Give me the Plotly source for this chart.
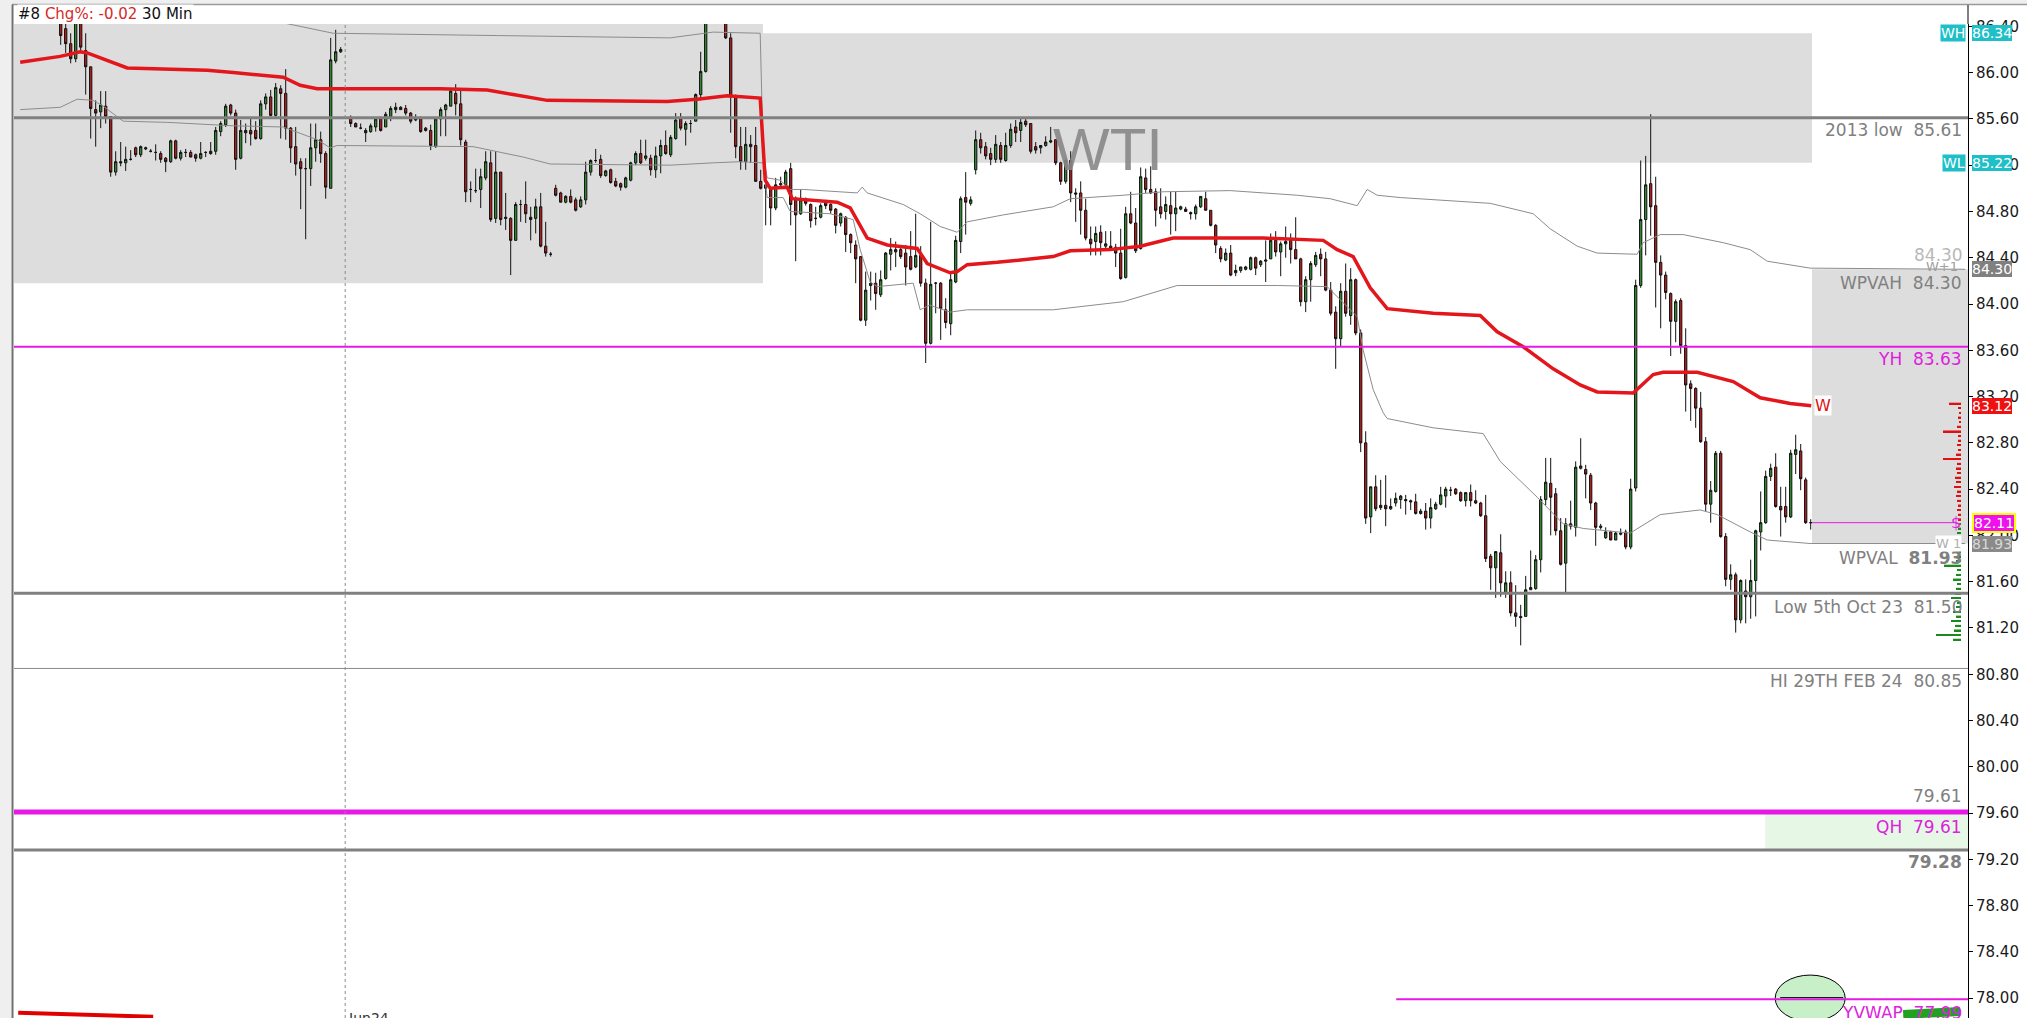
import plotly.graph_objects as go

# ---------------- candle data (30 min bars, index = bar position) ----------------
FIRST_BAR = 9
opens = [
 86.55, 86.38, 86.25, 86.12, 86.50, 86.19, 86.05, 85.68, 85.66, 85.71,
 85.62, 85.14, 85.23, 85.22, 85.25, 85.35, 85.29, 85.34, 85.32, 85.31,
 85.30, 85.26, 85.23, 85.41, 85.26, 85.31, 85.31, 85.29, 85.26, 85.31,
 85.30, 85.32, 85.49, 85.55, 85.72, 85.65, 85.26, 85.50, 85.50, 85.50,
 85.43, 85.73, 85.79, 85.63, 85.86, 85.82, 85.52, 85.36, 85.23, 85.17,
 85.17, 85.35, 85.42, 85.30, 85.00, 86.10, 86.18, None, 85.60, 85.56,
 85.52, 85.50, 85.49, 85.53, 85.60, 85.53, 85.62, 85.70, 85.70, 85.69,
 85.65, 85.61, 85.60, 85.52, 85.50, 85.36, 85.60, 85.68, 85.71, 85.82,
 85.73, 85.40, 84.99, 84.98, 84.99, 85.09, 85.22, 84.74, 85.14, 84.75,
 84.74, 84.55, 84.86, 84.86, 84.75, 84.74, 84.84, 84.50, 84.43, 85.00,
 84.96, 84.88, 84.93, 84.90, 84.84, 84.90, 85.14, 85.24, 85.25, 85.11,
 85.16, 85.06, 85.04, 85.01, 85.07, 85.22, 85.30, 85.26, 85.26, 85.16,
 85.28, 85.37, 85.29, 85.43, 85.60, 85.51, 85.56, 85.58, 85.81, 86.01,
 86.50, 86.65, 86.55, 86.45, 86.30, 85.79, 85.36, 85.23, 85.38, 85.37,
 85.06, 85.03, 85.00, 84.83, 85.03, 85.03, 85.17, 84.91, 84.78, 84.91,
 84.86, 84.74, 84.75, 84.88, 84.86, 84.82, 84.70, 84.75, 84.60, 84.51,
 84.41, 83.86, 84.16, 84.18, 84.08, 84.22, 84.43, 84.45, 84.47, 84.44,
 84.41, 84.32, 84.42, 84.18, 83.66, 84.18, 84.18, 83.95, 83.83, 84.19,
 84.54, 84.92, 84.87, 85.16, 85.42, 85.36, 85.30, 85.25, 85.37, 85.24,
 85.37, 85.53, 85.50, 85.58, 85.56, 85.36, 85.35, 85.37, 85.40, 85.42,
 85.22, 85.06, 85.24, 84.96, 84.96, 84.81, 84.56, 84.54, 84.62, 84.50,
 84.50, 84.49, 84.44, 84.23, 84.78, 84.70, 84.48, 85.09, 84.99, 84.97,
 84.84, 84.80, 84.85, 84.78, 84.82, 84.82, 84.79, 84.78, 84.84, 84.91,
 84.81, 84.68, 84.48, 84.38, 84.44, 84.27, 84.29, 84.30, 84.30, 84.40,
 84.34, 84.37, 84.39, 84.55, 84.45, 84.52, 84.55, 84.47, 84.39, 84.02,
 84.21, 84.34, 84.43, 84.39, 84.12, 83.93, 83.70, 84.11, 83.90, 84.21,
 83.75, 82.80, 82.16, 82.42, 82.24, 82.26, 82.23, 82.28, 82.31, 82.31,
 82.30, 82.29, 82.19, 82.21, 82.15, 82.23, 82.27, 82.34, 82.39, 82.40,
 82.37, 82.30, 82.37, 82.30, 82.28, 82.17, 81.82, 81.72, 81.85, 81.50,
 81.59, 81.33, 81.30, 81.30, 81.53, 81.54, 81.79, 82.31, 82.45, 82.36,
 82.04, 81.76, 82.10, 82.07, 82.58, 82.57, 82.52, 82.28, 82.08, 81.98,
 82.03, 81.96, 82.01, 82.03, 81.90, 82.41, 84.16, 84.73, 85.04, 84.85,
 84.36, 84.25, 84.09, 83.85, 84.03, 83.64, 83.31, 83.27, 83.10, 82.81,
 82.27, 82.38, 82.71, 81.99, 81.62, 81.66, 81.27, 81.52, 81.47, 81.61,
 82.03, 82.11, 82.51, 82.59, 82.25, 82.25, 82.16, 82.70, 82.73, 82.48, 82.11,
]
highs = [
 86.60, 86.45, 86.34, 86.60, 86.60, 86.34, 86.05, 85.76, 85.84, 85.84,
 85.62, 85.32, 85.40, 85.36, 85.33, 85.36, 85.37, 85.36, 85.34, 85.38,
 85.32, 85.27, 85.42, 85.42, 85.33, 85.34, 85.33, 85.30, 85.40, 85.32,
 85.40, 85.53, 85.58, 85.73, 85.73, 85.68, 85.59, 85.56, 85.60, 85.58,
 85.76, 85.82, 85.85, 85.91, 85.89, 86.03, 85.53, 85.53, 85.26, 85.26,
 85.56, 85.56, 85.49, 85.32, 86.30, 86.37, 86.22, None, 85.63, 85.57,
 85.56, 85.52, 85.56, 85.61, 85.62, 85.66, 85.71, 85.74, 85.71, 85.72,
 85.66, 85.64, 85.62, 85.53, 85.55, 85.60, 85.70, 85.73, 85.86, 85.90,
 85.85, 85.42, 85.06, 85.17, 85.17, 85.32, 85.32, 85.32, 85.14, 84.96,
 84.75, 84.88, 84.90, 85.06, 84.84, 84.91, 84.96, 84.71, 84.45, 85.03,
 84.97, 84.94, 84.99, 84.92, 84.93, 85.23, 85.25, 85.34, 85.29, 85.16,
 85.17, 85.09, 85.05, 85.10, 85.23, 85.32, 85.42, 85.42, 85.29, 85.36,
 85.42, 85.50, 85.46, 85.65, 85.65, 85.58, 85.59, 85.82, 86.18, 86.60,
 86.80, 86.80, 86.70, 86.55, 86.34, 85.81, 85.53, 85.53, 85.46, 85.53,
 85.16, 85.11, 85.01, 85.09, 85.10, 85.16, 85.22, 84.93, 84.99, 84.92,
 84.87, 84.84, 84.87, 84.90, 84.87, 84.83, 84.79, 84.76, 84.61, 84.55,
 84.41, 84.28, 84.28, 84.27, 84.29, 84.45, 84.57, 84.54, 84.51, 84.51,
 84.63, 84.78, 84.50, 84.22, 84.71, 84.19, 84.19, 84.05, 84.28, 84.59,
 84.93, 85.14, 84.93, 85.50, 85.48, 85.40, 85.35, 85.46, 85.40, 85.48,
 85.56, 85.59, 85.60, 85.60, 85.56, 85.40, 85.37, 85.45, 85.53, 85.42,
 85.23, 85.26, 85.32, 85.00, 85.06, 84.91, 84.67, 84.67, 84.68, 84.63,
 84.63, 84.52, 84.65, 84.84, 84.97, 84.83, 85.18, 85.17, 85.19, 85.00,
 85.00, 84.93, 84.97, 84.97, 84.85, 84.84, 84.80, 84.86, 84.93, 84.97,
 84.81, 84.69, 84.50, 84.48, 84.51, 84.34, 84.32, 84.33, 84.41, 84.41,
 84.38, 84.55, 84.61, 84.63, 84.54, 84.67, 84.61, 84.75, 84.40, 84.24,
 84.37, 84.45, 84.48, 84.45, 84.19, 83.98, 84.18, 84.35, 84.31, 84.22,
 83.78, 82.90, 82.42, 82.52, 82.48, 82.52, 82.32, 82.37, 82.35, 82.35,
 82.31, 82.36, 82.23, 82.28, 82.32, 82.29, 82.42, 82.42, 82.42, 82.41,
 82.38, 82.37, 82.44, 82.39, 82.29, 82.35, 81.84, 81.86, 82.01, 81.69,
 81.69, 81.57, 81.40, 81.65, 81.87, 81.83, 82.34, 82.67, 82.67, 82.41,
 82.15, 82.15, 82.30, 82.64, 82.84, 82.61, 82.54, 82.29, 82.10, 82.07,
 82.04, 82.03, 82.06, 82.05, 82.49, 84.21, 85.24, 85.28, 85.64, 85.10,
 84.42, 84.28, 84.10, 84.04, 84.05, 83.79, 83.34, 83.28, 83.24, 82.85,
 82.47, 82.73, 82.73, 82.02, 81.75, 81.68, 81.62, 81.62, 81.79, 82.05,
 82.38, 82.56, 82.62, 82.71, 82.42, 82.42, 82.74, 82.87, 82.79, 82.50, 82.14,
]
lows = [
 86.24, 86.17, 86.08, 86.09, 86.17, 85.81, 85.43, 85.36, 85.52, 85.56,
 85.10, 85.11, 85.19, 85.15, 85.24, 85.27, 85.27, 85.33, 85.31, 85.24,
 85.22, 85.14, 85.22, 85.25, 85.24, 85.27, 85.27, 85.23, 85.25, 85.27,
 85.29, 85.29, 85.45, 85.53, 85.63, 85.16, 85.25, 85.39, 85.37, 85.42,
 85.42, 85.68, 85.62, 85.62, 85.43, 85.42, 85.22, 85.11, 84.82, 84.56,
 85.02, 85.23, 85.22, 84.91, 85.00, 86.08, 86.17, None, 85.53, 85.53,
 85.51, 85.40, 85.48, 85.49, 85.49, 85.53, 85.58, 85.65, 85.68, 85.63,
 85.56, 85.58, 85.48, 85.49, 85.33, 85.35, 85.45, 85.45, 85.71, 85.63,
 85.37, 84.88, 84.88, 84.96, 84.83, 85.07, 84.71, 84.70, 84.68, 84.64,
 84.25, 84.55, 84.71, 84.70, 84.55, 84.61, 84.49, 84.41, 84.41, 84.93,
 84.88, 84.87, 84.87, 84.80, 84.83, 84.86, 85.11, 85.22, 85.09, 85.10,
 85.04, 85.01, 84.98, 85.00, 85.06, 85.20, 85.21, 85.24, 85.11, 85.09,
 85.13, 85.29, 85.27, 85.42, 85.50, 85.37, 85.48, 85.58, 85.76, 86.00,
 86.45, 86.50, 86.44, 86.29, 85.48, 85.26, 85.16, 85.16, 85.22, 85.06,
 84.99, 84.68, 84.68, 84.81, 85.02, 85.01, 84.68, 84.37, 84.77, 84.85,
 84.66, 84.68, 84.74, 84.82, 84.78, 84.61, 84.67, 84.45, 84.44, 84.18,
 83.85, 83.81, 84.03, 83.95, 84.06, 84.21, 84.29, 84.32, 84.39, 84.16,
 84.29, 84.31, 84.15, 83.49, 83.65, 83.92, 83.69, 83.79, 83.73, 84.18,
 84.44, 84.60, 84.85, 85.12, 85.30, 85.25, 85.20, 85.22, 85.22, 85.23,
 85.35, 85.40, 85.40, 85.53, 85.30, 85.30, 85.30, 85.36, 85.39, 85.20,
 85.03, 85.04, 84.88, 84.71, 84.60, 84.55, 84.42, 84.42, 84.42, 84.48,
 84.47, 84.32, 84.21, 84.22, 84.69, 84.44, 84.47, 84.96, 84.95, 84.67,
 84.74, 84.73, 84.60, 84.63, 84.81, 84.80, 84.73, 84.73, 84.83, 84.81,
 84.67, 84.44, 84.36, 84.37, 84.24, 84.24, 84.27, 84.29, 84.29, 84.25,
 84.32, 84.19, 84.39, 84.41, 84.24, 84.40, 84.35, 84.39, 83.98, 83.93,
 84.02, 84.32, 84.24, 84.11, 83.90, 83.44, 83.63, 83.89, 83.82, 83.73,
 82.72, 82.10, 82.02, 82.21, 82.22, 82.08, 82.22, 82.25, 82.23, 82.18,
 82.22, 82.18, 82.18, 82.05, 82.06, 82.22, 82.26, 82.24, 82.34, 82.35,
 82.29, 82.25, 82.25, 82.27, 82.16, 81.77, 81.53, 81.46, 81.47, 81.46,
 81.30, 81.21, 81.05, 81.30, 81.53, 81.53, 81.68, 82.26, 82.00, 82.00,
 81.74, 81.50, 82.05, 81.99, 82.57, 82.32, 82.22, 81.91, 82.05, 81.97,
 81.96, 81.96, 82.00, 81.88, 81.88, 82.38, 84.14, 84.42, 84.59, 83.97,
 83.79, 84.04, 83.55, 83.67, 83.57, 83.07, 82.99, 82.93, 82.80, 82.21,
 82.11, 82.37, 81.98, 81.56, 81.53, 81.16, 81.24, 81.24, 81.28, 81.30,
 81.87, 82.10, 82.47, 82.24, 81.99, 82.11, 82.15, 82.53, 82.39, 82.10, 82.05,
]
closes = [
 86.32, 86.25, 86.12, 86.50, 86.22, 86.05, 85.69, 85.65, 85.72, 85.62,
 85.14, 85.23, 85.22, 85.25, 85.25, 85.29, 85.36, 85.35, 85.32, 85.31,
 85.25, 85.23, 85.41, 85.26, 85.31, 85.31, 85.27, 85.26, 85.30, 85.31,
 85.32, 85.50, 85.56, 85.71, 85.65, 85.25, 85.50, 85.48, 85.47, 85.43,
 85.73, 85.79, 85.63, 85.87, 85.82, 85.52, 85.35, 85.21, 85.17, 85.17,
 85.35, 85.42, 85.30, 85.01, 86.11, 86.18, 86.20, None, 85.56, 85.53,
 85.52, 85.48, 85.54, 85.60, 85.50, 85.64, 85.69, 85.68, 85.68, 85.65,
 85.58, 85.59, 85.49, 85.50, 85.37, 85.60, 85.68, 85.72, 85.84, 85.73,
 85.42, 84.97, 84.99, 84.98, 85.10, 85.23, 84.73, 85.14, 84.73, 84.74,
 84.55, 84.86, 84.86, 84.78, 84.73, 84.84, 84.50, 84.44, 84.43, 84.94,
 84.88, 84.93, 84.88, 84.81, 84.90, 85.14, 85.24, 85.24, 85.11, 85.15,
 85.05, 85.02, 85.01, 85.09, 85.22, 85.30, 85.22, 85.28, 85.16, 85.28,
 85.37, 85.30, 85.44, 85.59, 85.52, 85.56, 85.56, 85.81, 86.01, 86.50,
 86.65, 86.55, 86.45, 86.30, 85.79, 85.36, 85.23, 85.38, 85.36, 85.06,
 85.00, 85.00, 84.83, 85.03, 85.04, 85.14, 84.86, 84.77, 84.90, 84.87,
 84.72, 84.74, 84.85, 84.85, 84.81, 84.68, 84.78, 84.60, 84.53, 84.39,
 83.86, 84.12, 84.18, 84.09, 84.21, 84.44, 84.47, 84.47, 84.41, 84.32,
 84.30, 84.42, 84.18, 83.66, 84.17, 84.18, 83.96, 83.84, 84.21, 84.55,
 84.91, 84.88, 84.90, 85.42, 85.35, 85.28, 85.25, 85.38, 85.25, 85.37,
 85.51, 85.48, 85.57, 85.55, 85.32, 85.33, 85.37, 85.40, 85.41, 85.22,
 85.06, 85.24, 84.96, 84.95, 84.81, 84.57, 84.52, 84.61, 84.53, 84.52,
 84.48, 84.44, 84.22, 84.78, 84.70, 84.46, 85.10, 84.99, 84.96, 84.81,
 84.78, 84.86, 84.78, 84.83, 84.84, 84.80, 84.78, 84.84, 84.93, 84.81,
 84.68, 84.51, 84.39, 84.44, 84.25, 84.29, 84.32, 84.32, 84.40, 84.31,
 84.37, 84.38, 84.55, 84.45, 84.52, 84.54, 84.47, 84.39, 84.02, 84.21,
 84.35, 84.42, 84.39, 84.12, 83.92, 83.70, 84.11, 83.92, 84.21, 83.75,
 82.80, 82.15, 82.42, 82.23, 82.26, 82.23, 82.25, 82.32, 82.34, 82.30,
 82.29, 82.19, 82.21, 82.15, 82.24, 82.27, 82.35, 82.40, 82.39, 82.36,
 82.30, 82.37, 82.30, 82.28, 82.17, 81.80, 81.72, 81.86, 81.59, 81.59,
 81.33, 81.30, 81.29, 81.53, 81.55, 81.79, 82.31, 82.46, 82.33, 82.04,
 81.75, 82.10, 82.08, 82.59, 82.60, 82.53, 82.28, 82.07, 82.07, 82.03,
 81.96, 82.02, 82.02, 81.90, 82.40, 84.16, 84.73, 85.03, 84.84, 84.36,
 84.25, 84.10, 83.85, 84.02, 83.64, 83.30, 83.27, 83.10, 82.81, 82.27,
 82.39, 82.71, 81.99, 81.62, 81.66, 81.27, 81.61, 81.47, 81.61, 82.04,
 82.11, 82.51, 82.58, 82.25, 82.22, 82.16, 82.71, 82.74, 82.49, 82.11, 82.11,
]

# ---------------- weekly VWAP and bands (bar position, price) ----------------
vwap_x = [0.9, 8.9, 12.9, 14.3, 22.3, 38.3, 43.5, 53.5, 56.9, 60.3, 84.9, 94.3, 99.5, 106.3, 130.3,
          136.3, 142.3, 148.9, 149.9, 150.9, 154.3, 155.3, 164.3, 166.9, 170.3, 174.3, 180.3, 182.3,
          186.9, 188.3, 190.3, 196.3, 207.5, 210.9, 218.9, 224.9, 231.5, 249.5, 261.5, 264.3, 267.5,
          270.9, 274.3, 283.5, 292.9, 296.3, 301.5, 307.5, 312.9, 316.3, 323.5, 327.5, 329.5, 336.3,
          343.5, 348.9, 354.9, 359.1]
vwap_y = [86.09, 86.14, 86.18, 86.17, 86.04, 86.02, 86.00, 85.96, 85.89, 85.86, 85.86, 85.85, 85.81,
          85.76, 85.75, 85.77, 85.80, 85.78, 85.07, 85.00, 85.01, 84.91, 84.88, 84.83, 84.57, 84.51,
          84.48, 84.35, 84.27, 84.28, 84.34, 84.36, 84.41, 84.46, 84.47, 84.50, 84.57, 84.57, 84.55,
          84.47, 84.41, 84.14, 83.96, 83.92, 83.90, 83.76, 83.63, 83.44, 83.30, 83.24, 83.23, 83.39,
          83.41, 83.41, 83.33, 83.19, 83.14, 83.12]
upper_x = [53.5, 63.5, 96.3, 130.9, 139.5, 148.9, 149.5, 150.3, 152.9, 154.9, 157.5, 168.3, 169.3,
           170.3, 177.5, 180.9, 184.9, 188.3, 190.3, 197.5, 207.5, 210.9, 221.5, 229.5, 242.9, 256.3,
           262.9, 268.3, 270.3, 272.3, 276.9, 294.9, 303.5, 306.9, 312.3, 316.3, 324.3, 325.5, 328.9,
           333.5, 341.5, 346.9, 350.3, 358.9, 389.9]
upper_y = [86.43, 86.34, 86.32, 86.30, 86.35, 86.34, 85.30, 85.09, 85.07, 84.99, 84.99, 84.96, 85.01,
           84.96, 84.86, 84.78, 84.67, 84.62, 84.71, 84.77, 84.84, 84.91, 84.94, 84.97, 84.98, 84.94,
           84.91, 84.85, 84.99, 84.94, 84.92, 84.87, 84.78, 84.65, 84.50, 84.44, 84.43, 84.53, 84.60,
           84.60, 84.53, 84.47, 84.37, 84.31, 84.30]
lower_x = [0.9, 8.9, 12.3, 15.5, 17.5, 21.5, 30.3, 43.5, 53.5, 60.3, 62.9, 64.3, 91.5, 101.5, 106.9,
           130.9, 139.5, 144.9, 149.5, 150.3, 153.5, 154.9, 162.9, 167.5, 168.9, 170.9, 172.3, 179.5,
           180.9, 182.8, 186.9, 190.3, 207.5, 221.5, 232.3, 252.3, 262.3, 265.5, 268.3, 269.5, 271.5,
           273.5, 274.3, 283.5, 293.5, 296.9, 304.3, 309.5, 313.5, 322.9, 328.9, 336.9, 340.3, 346.9,
           350.3, 358.9, 389.9]
lower_y = [85.68, 85.70, 85.77, 85.76, 85.71, 85.58, 85.57, 85.54, 85.53, 85.42, 85.35, 85.37, 85.36,
           85.27, 85.21, 85.20, 85.22, 85.23, 85.22, 84.92, 84.92, 84.80, 84.78, 84.73, 84.47, 84.19,
           84.15, 84.18, 83.95, 83.99, 83.93, 83.95, 83.95, 84.02, 84.16, 84.16, 84.15, 84.01, 83.89,
           83.60, 83.26, 83.06, 83.01, 82.93, 82.88, 82.64, 82.33, 82.10, 82.06, 82.02, 82.18, 82.22,
           82.18, 82.03, 81.96, 81.93, 81.93]

# ---------------- volume profile (right edge) ----------------
prof_price = [83.14, 83.10, 83.06, 83.02, 82.98, 82.94, 82.90, 82.86, 82.82, 82.78, 82.74, 82.70, 82.66,
              82.62, 82.58, 82.54, 82.50, 82.46, 82.42, 82.38, 82.34, 82.30, 82.26, 82.22, 82.18, 82.14,
              82.10, 82.06, 82.02, 81.98, 81.94, 81.90, 81.86, 81.82, 81.78, 81.74, 81.70, 81.66, 81.62,
              81.58, 81.54, 81.50, 81.46, 81.42, 81.38, 81.34, 81.30, 81.26, 81.22, 81.18, 81.14, 81.10]
prof_vol = [12, 3, 2, 3, 2, 4, 18, 3, 3, 4, 3, 5, 18, 4, 5, 4, 6, 5, 7, 4, 5, 4, 3, 4, 3, 3,
            2, 3, 4, 3, 4, 3, 4, 3, 5, 17, 4, 5, 8, 4, 5, 6, 10, 4, 5, 8, 5, 10, 6, 7, 25, 8]

# ---------------- reference levels ----------------
WH, WL = 86.34, 85.22
PW_BOX = (84.18, 86.90)
WPVAH, WPVAL = 84.30, 81.93
LOW_2013 = 85.61
YH = 83.63
LOW_OCT23 = 81.50
HI_FEB24 = 80.85
QH = 79.61
LVL_7928 = 79.28
YVWAP = 77.99
SESSION_BREAK = 65.9
WEEK_BREAK = 149.46
LAST_BAR_EDGE = 359.26
YVWAP_START = 276.1
TICKS = [78.0 + 0.4 * k for k in range(22)]

n = len(opens)
assert n == len(highs) == len(lows) == len(closes)
idx = list(range(FIRST_BAR, FIRST_BAR + n))
last_close = closes[-1]
last_vwap = vwap_y[-1]

X_RANGE = [-0.34, 390.46]
Y_RANGE = [77.829, 86.42]
MAG = '#E619E6'
MAG_T = '#DD22DD'
GRAY = '#808080'
CYAN = '#1FBFC7'
FONT = 'DejaVu Sans'

fig = go.Figure()

fig.add_trace(go.Candlestick(
    x=idx, open=opens, high=highs, low=lows, close=closes,
    increasing=dict(line=dict(color='#111111', width=1), fillcolor='#2f8f2f'),
    decreasing=dict(line=dict(color='#111111', width=1), fillcolor='#b81c1c'),
    whiskerwidth=0, hoverinfo='skip', showlegend=False))

for bx, by in ((upper_x, upper_y), (lower_x, lower_y)):
    fig.add_trace(go.Scatter(x=bx, y=by, mode='lines', line=dict(color='#8c8c8c', width=1),
                             hoverinfo='skip', showlegend=False))

fig.add_trace(go.Scatter(x=vwap_x, y=vwap_y, mode='lines', line=dict(color='#E3161C', width=3.5),
                         hoverinfo='skip', showlegend=False))

fig.add_trace(go.Scatter(x=[LAST_BAR_EDGE, 387.7], y=[last_close, last_close], mode='lines',
                         line=dict(color=MAG, width=1), hoverinfo='skip', showlegend=False))

fig.add_trace(go.Bar(y=prof_price, x=prof_vol, orientation='h', xaxis='x2', yaxis='y', base=0,
                     width=0.014,
                     marker=dict(color=['#dd1111' if p > last_close else '#1a8a1a' for p in prof_price],
                                 line=dict(width=0)),
                     hoverinfo='skip', showlegend=False))

shapes = []
# shaded ranges
shapes.append(dict(type='rect', xref='x', yref='y', x0=-2, x1=WEEK_BREAK, y0=PW_BOX[0], y1=PW_BOX[1],
                   fillcolor='#dddddd', line=dict(width=0), layer='below'))
shapes.append(dict(type='rect', xref='x', yref='y', x0=WEEK_BREAK, x1=LAST_BAR_EDGE, y0=WL, y1=WH,
                   fillcolor='#dddddd', line=dict(width=0), layer='below'))
shapes.append(dict(type='rect', xref='x', yref='y', x0=LAST_BAR_EDGE, x1=395, y0=WPVAL, y1=WPVAH,
                   fillcolor='#dddddd', line=dict(width=0), layer='below'))
shapes.append(dict(type='rect', xref='x', yref='y', x0=349.9, x1=395, y0=LVL_7928, y1=QH,
                   fillcolor='#e6f7e6', line=dict(width=0), layer='below'))
shapes.append(dict(type='circle', xref='x', yref='y', x0=351.9, x1=365.9, y0=77.80, y1=78.20,
                   fillcolor='#c8f0c8', line=dict(color='black', width=1), layer='below'))
# level lines
for lvl, col, w in ((LOW_2013, GRAY, 3), (YH, MAG, 2), (LOW_OCT23, GRAY, 3), (HI_FEB24, '#8a8a8a', 1),
                    (QH, MAG, 5), (LVL_7928, GRAY, 3)):
    shapes.append(dict(type='line', xref='paper', yref='y', x0=0, x1=1, y0=lvl, y1=lvl,
                       line=dict(color=col, width=w), layer='above'))
shapes.append(dict(type='line', xref='x', yref='y', x0=352.9, x1=365.5, y0=78.005, y1=78.005,
                   line=dict(color='black', width=1), layer='above'))
shapes.append(dict(type='line', xref='x', yref='y', x0=YVWAP_START, x1=395, y0=YVWAP, y1=YVWAP,
                   line=dict(color=MAG, width=2), layer='above'))
# drawings near the bottom
shapes.append(dict(type='line', xref='x', yref='y', x0=0.5, x1=27.5, y0=77.875, y1=77.84,
                   line=dict(color='#e00000', width=4), layer='above'))
shapes.append(dict(type='line', xref='x', yref='y', x0=377.5, x1=388.9, y0=77.86, y1=77.885,
                   line=dict(color='#22a022', width=9), layer='above'))
# session separator
shapes.append(dict(type='line', xref='x', yref='paper', x0=SESSION_BREAK, x1=SESSION_BREAK, y0=0, y1=1,
                   line=dict(color='#8a8a8a', width=1, dash='dot'), layer='above'))
# window frame
PW, PH = 1954.0, 994.0
shapes.append(dict(type='rect', xref='paper', yref='paper', x0=-14 / PW, x1=2013 / PW,
                   y0=1014 / PH, y1=1018 / PH + 0.01, fillcolor='#efefef', line=dict(width=0)))
shapes.append(dict(type='line', xref='paper', yref='paper', x0=-2 / PW, x1=2013 / PW,
                   y0=1013.5 / PH, y1=1013.5 / PH, line=dict(color='#9a9a9a', width=1.5)))
shapes.append(dict(type='rect', xref='paper', yref='paper', x0=-14 / PW, x1=-3 / PW,
                   y0=-0.01, y1=1014 / PH, fillcolor='#efefef', line=dict(width=0)))
shapes.append(dict(type='line', xref='paper', yref='paper', x0=-1.5 / PW, x1=-1.5 / PW,
                   y0=-0.01, y1=1013.5 / PH, line=dict(color='#707070', width=2)))
shapes.append(dict(type='line', xref='paper', yref='paper', x0=1, x1=1,
                   y0=1, y1=1013 / PH, line=dict(color='black', width=1)))

ann = []

def rlabel(y, text, color, size=17, below=True, shift=1, xshift=-4, bg=None):
    d = dict(xref='paper', x=1, xanchor='right', xshift=xshift, yref='y', y=y,
             yanchor='top' if below else 'bottom', yshift=-shift if below else shift,
             text=text, showarrow=False, font=dict(family=FONT, size=size, color=color))
    if bg:
        d['bgcolor'] = bg
    ann.append(d)

def tag(y, text, bg, fc='white', border=None):
    ann.append(dict(xref='paper', x=1, xanchor='left', xshift=4, yref='y', y=y, yanchor='middle',
                    text=text, showarrow=False, bgcolor=bg, borderpad=0,
                    bordercolor=border if border else bg, borderwidth=2 if border else 0,
                    font=dict(family=FONT, size=14, color=fc)))

def ltag(y, text, bg):
    ann.append(dict(xref='paper', x=1, xanchor='right', xshift=-2, yref='y', y=y, yanchor='middle',
                    text=text, showarrow=False, bgcolor=bg, borderpad=0,
                    font=dict(family=FONT, size=14, color='white')))

S = '\u00a0'
rlabel(LOW_2013, f'2013 low{S}{S}{LOW_2013:.2f}', GRAY, shift=0)
rlabel(WPVAH, f'WPVAH{S}{S}{WPVAH:.2f}', GRAY, shift=2)
rlabel(WPVAH, f'{WPVAH:.2f}', '#b8b8b8', below=False, shift=2, xshift=-3)
rlabel(WPVAH, 'W+1', '#a0a0a0', size=13, below=False, shift=-7, xshift=-8)
rlabel(YH, f'YH{S}{S}{YH:.2f}', MAG_T, shift=0)
rlabel(WPVAL, f'WPVAL{S}{S}<b>{WPVAL:.2f}</b>', GRAY, shift=2)
rlabel(LOW_OCT23, f'Low 5th Oct 23{S}{S}{LOW_OCT23:.2f}', GRAY, shift=2)
rlabel(HI_FEB24, f'HI 29TH FEB 24{S}{S}{HI_FEB24:.2f}', GRAY, shift=1)
rlabel(QH, f'{QH:.2f}', GRAY, below=False, shift=4)
rlabel(QH, f'QH{S}{S}{QH:.2f}', MAG_T, shift=3)
rlabel(LVL_7928, f'<b>{LVL_7928:.2f}</b>', GRAY, shift=0)
rlabel(YVWAP, f'YVWAP{S}{S}{YVWAP:.2f}', MAG_T, shift=2)

ann.append(dict(xref='paper', x=1, xanchor='right', xshift=-6, yref='y', y=WPVAL, yanchor='middle',
                text='W 1', showarrow=False, bgcolor='white', borderpad=0,
                font=dict(family=FONT, size=13, color='#b0b0b0')))
ann.append(dict(xref='paper', x=1, xanchor='right', xshift=-5, yref='y', y=last_close, yanchor='middle',
                text='$', showarrow=False, font=dict(family=FONT, size=16, color=MAG_T)))

tag(WH, f'{WH:.2f}', CYAN)
tag(WL, f'{WL:.2f}', CYAN)
tag(WPVAH, f'{WPVAH:.2f}', '#808080')
tag(last_vwap, f'{last_vwap:.2f}', '#ee1111')
tag(WPVAL, f'{WPVAL:.2f}', '#8a8a8a', fc='#d8d8d8')
tag(last_close, f'{last_close:.2f}', '#ee11ee', border='#ffff00')
ltag(WH, 'WH', CYAN)
ltag(WL, 'WL', CYAN)

ann.append(dict(xref='x', x=vwap_x[-1], xanchor='left', xshift=3, yref='y', y=last_vwap, yanchor='middle',
                text='W', showarrow=False, bgcolor='white', borderpad=0,
                font=dict(family=FONT, size=16, color='#e01010')))
ann.append(dict(xref='x', x=218.5, yref='y', y=85.335, xanchor='center', yanchor='middle',
                text='WTI', showarrow=False, opacity=0.9,
                font=dict(family='Liberation Sans', size=60, color='#888888')))
ann.append(dict(xref='paper', x=0, xanchor='left', xshift=3, yref='paper', y=1, yanchor='bottom',
                text="#8 <span style='color:#d42a2a'>Chg%: -0.02</span> 30 Min", showarrow=False,
                bgcolor='white', borderpad=0, font=dict(family=FONT, size=15, color='#111111')))
ann.append(dict(xref='x', x=SESSION_BREAK, xanchor='left', xshift=1, yref='paper', y=0, yanchor='top',
                yshift=10, text='Jun24', showarrow=False, font=dict(family=FONT, size=14, color='#333333')))

fig.update_layout(
    width=2027, height=1018,
    margin=dict(l=14, r=59, t=24, b=0, pad=0),
    paper_bgcolor='white', plot_bgcolor='white',
    showlegend=False, hovermode=False, boxgap=0.35,
    xaxis=dict(range=X_RANGE, visible=False, rangeslider=dict(visible=False), fixedrange=True),
    xaxis2=dict(range=[1947, -7], overlaying='x', anchor='y', visible=False, fixedrange=True),
    yaxis=dict(range=Y_RANGE, side='right', showgrid=False, zeroline=False, showline=True,
               linecolor='black', linewidth=1, ticks='outside', ticklen=4, tickcolor='black',
               tickvals=TICKS, ticktext=[f'{t:.2f}' for t in TICKS],
               tickfont=dict(family=FONT, size=15, color='#1a1a1a'), fixedrange=True),
    shapes=shapes, annotations=ann,
)

fig.write_html('out.html', config={'displayModeBar': False},
               post_script="document.body.style.margin='0';document.body.style.overflow='hidden';")
